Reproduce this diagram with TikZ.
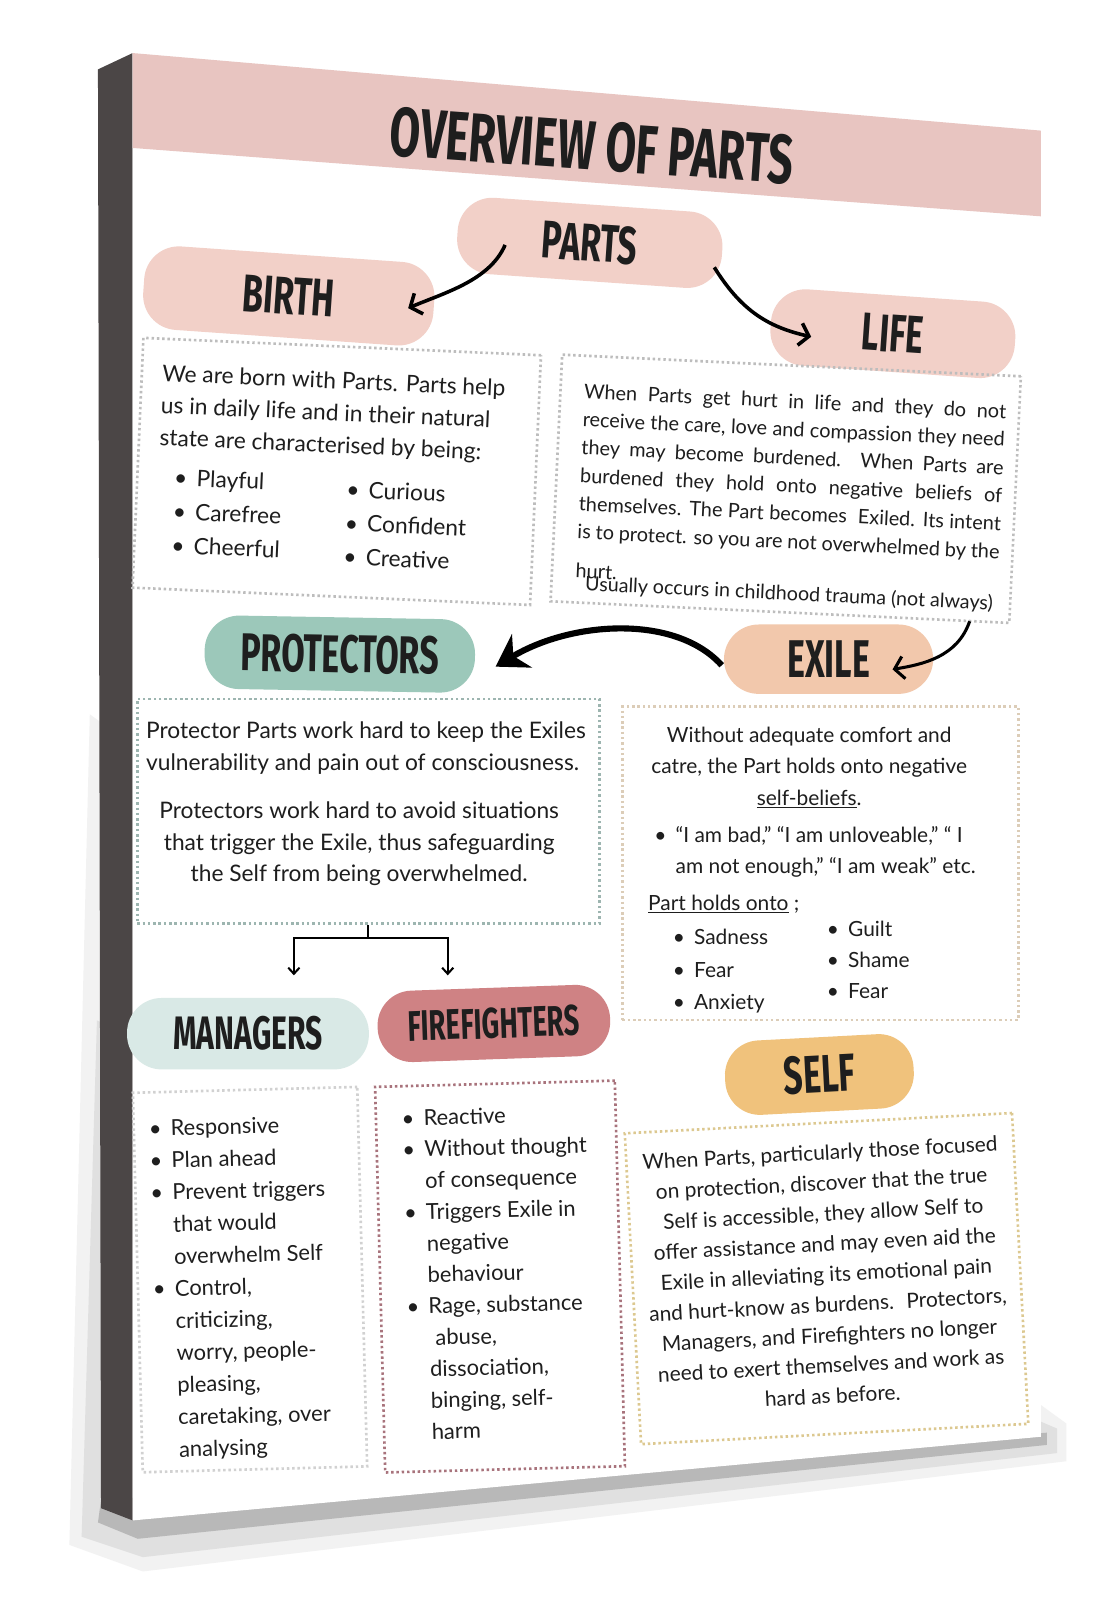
\documentclass[tikz,border=0pt]{standalone}
\usepackage{fontspec}
\setmainfont{Lato}
\newfontfamily\headfont{Fira Sans}[FakeStretch=0.64]
\usetikzlibrary{arrows.meta, positioning, calc}

\definecolor{bandpink}{HTML}{E8C5C1}
\definecolor{pillpink}{HTML}{F2D0C8}
\definecolor{sage}{HTML}{9CC8BA}
\definecolor{peach}{HTML}{F2C8AC}
\definecolor{mist}{HTML}{D9E9E6}
\definecolor{rose}{HTML}{CF8284}
\definecolor{honey}{HTML}{F0C27C}
\definecolor{dotgrey}{HTML}{BDBDBD}
\definecolor{dotteal}{HTML}{9DB5B0}
\definecolor{dotsand}{HTML}{DCCDB8}
\definecolor{dotmauve}{HTML}{A8737C}
\definecolor{dottan}{HTML}{DCC890}
\definecolor{edgedark}{HTML}{4B4646}
\definecolor{ink}{HTML}{1E1E1E}

\tikzset{
  pill/.style={rectangle, rounded corners=34pt, minimum height=72pt, inner sep=0pt,
    text=ink, font=\headfont\bfseries\fontsize{52}{52}\selectfont},
  dotbox/.style={line width=2.6pt, dash pattern=on 2.4pt off 2.8pt, inner sep=0pt},
  textleft/.style={anchor=base west, inner sep=0pt, text=ink},
  textmid/.style={anchor=base, inner sep=0pt, text=ink},
  barb/.style={line width=3.5pt, -{Straight Barb[length=9pt, width=22pt]}},
}
\newcommand{\bul}{\leavevmode\llap{\textbullet\hspace{9pt}}}

\begin{document}
\begin{tikzpicture}[x=1pt, y=-1pt, >=Stealth]
  \fill[white] (0,0) rectangle (1074,1568);
  \useasboundingbox (0,0) rectangle (1074,1568);
  % Canvas: shadow, side and front
  \fill[black!5] (88,700) -- (68,1514) -- (140,1540) -- (1045,1432) -- (1045,1395) -- cycle;
  \fill[black!12] (95,1000) -- (80,1506) -- (140,1526) -- (1036,1424) -- (1036,1400) -- cycle;
  \fill[black!28] (99,1470) -- (96,1492) -- (135,1508) -- (1026,1416) -- (1026,1404) -- cycle;
  \fill[edgedark] (96,68) -- (130,52) -- (130,1490) -- (99,1478) -- cycle;
  \fill[white] (130,52) -- (1020,128) -- (1020,1408) -- (130,1490) -- cycle;
  % Title band
  \fill[bandpink] (130,52) -- (1020,128) -- (1020,212) -- (130,145) -- cycle;
  \node[text=ink, font=\headfont\bfseries\fontsize{68}{68}\selectfont, rotate=-4] (title)
    at (580,143) {OVERVIEW OF PARTS};

  % Top row of pills
  \node[pill, fill=pillpink, minimum width=260pt, minimum height=75pt, rotate=-4] (parts) at (578,238) {PARTS};
  \node[pill, fill=pillpink, minimum width=285pt, minimum height=82pt, rotate=-4] (birth) at (283,290) {BIRTH};
  \node[pill, fill=pillpink, minimum width=240pt, minimum height=75pt, rotate=-4] (life) at (875,327) {LIFE};
  \draw[barb] ($(parts.center)+(-83,2)$) .. controls +(-15,35) and +(35,-15) .. ($(birth.center)+(117,12)$);
  \draw[barb] ($(parts.center)+(122,24)$) .. controls +(25,40) and +(-45,-10) .. ($(life.center)+(-80,3)$);

  % Birth box
  \begin{scope}[rotate around={-2.5:(330,462)}, transform shape]
    \node[dotbox, draw=dotgrey, minimum width=390pt, minimum height=245pt] (birthbox) at (330,462) {};
    \node[textleft, font=\fontsize{22.3}{31.5}\selectfont] (birthtext) at (155,381)
      {\parbox[t]{365pt}{\raggedright We are born with Parts. Parts help\\ us in daily life and in their natural\\ state are characterised by being:}};
    \node[textleft, font=\fontsize{22.3}{33}\selectfont] (birthlistA) at (193,483)
      {\parbox[t]{140pt}{\raggedright\bul Playful\\ \bul Carefree\\ \bul Cheerful}};
    \node[textleft, font=\fontsize{22.3}{33}\selectfont] (birthlistB) at (362,487)
      {\parbox[t]{140pt}{\raggedright\bul Curious\\ \bul Confident\\ \bul Creative}};
  \end{scope}

  % Life box
  \begin{scope}[rotate around={-2.7:(770,479)}, transform shape]
    \node[dotbox, draw=dotgrey, minimum width=450pt, minimum height=242pt] (lifebox) at (770,479) {};
    \node[textleft, font=\fontsize{19.5}{27.5}\selectfont] (lifetext) at (568,400)
      {\parbox[t]{414pt}{\parfillskip=0pt When Parts get hurt in life and they do not\linebreak
        receive the care, love and compassion they need\linebreak
        they may become burdened. When Parts are\linebreak
        burdened they hold onto negative beliefs of\linebreak
        themselves. The Part becomes \ Exiled. Its intent\linebreak
        is to protect. so you are not overwhelmed by the\par}};
    \node[textleft, font=\fontsize{19.5}{27.5}\selectfont] (hurt) at (568,576) {hurt.};
    \node[textleft, font=\fontsize{19.3}{27.5}\selectfont] (usually) at (578,588) {Usually occurs in childhood trauma (not always)};
  \end{scope}

  % Middle row of pills
  \node[pill, fill=sage, minimum width=265pt, rotate=-1] (protectors) at (333,641) {PROTECTORS};
  \node[pill, fill=peach, minimum width=205pt, minimum height=68pt] (exile) at (812,646) {EXILE};
  \draw[line width=6pt, -{Stealth[length=30pt, width=38pt]}] ($(exile.west)+(-2,6)$)
    .. controls +(-45,-50) and +(75,-45) .. ($(protectors.east)+(20,10)$);
  \draw[line width=3pt, -{Straight Barb[length=9pt, width=22pt]}] ($(lifebox.south east)+(-40,-3)$)
    .. controls +(-12,35) and +(30,-5) .. ($(exile.east)+(-40,10)$);

  % Protectors box
  \node[dotbox, draw=dotteal, minimum width=453pt, minimum height=220pt] (protbox) at (361,795) {};
  \node[textleft, font=\fontsize{22.3}{31}\selectfont] (prottextA) at (143,724)
    {\parbox[t]{445pt}{\raggedright Protector Parts work hard to keep the Exiles\\ vulnerability and pain out of consciousness.}};
  \node[textmid, font=\fontsize{22.3}{31}\selectfont] (prottextB) at (352,802)
    {\parbox[t]{445pt}{\centering Protectors work hard to avoid situations\\ that trigger the Exile, thus safeguarding\\ the Self from being overwhelmed.}};

  % Exile box
  \node[dotbox, draw=dotsand, minimum width=388pt, minimum height=307pt] (exilebox) at (804,846) {};
  \node[textmid, font=\fontsize{20.5}{30.5}\selectfont] (exiletext) at (793,728)
    {\parbox[t]{375pt}{\centering Without adequate comfort and\\ catre, the Part holds onto negative\\ \underline{self-beliefs}.}};
  \node[textleft, font=\fontsize{20.5}{30}\selectfont] (beliefs) at (662,826)
    {\parbox[t]{330pt}{\raggedright\bul “I am bad,” “I am unloveable,” “ I\\ am not enough,” “I am weak” etc.}};
  \node[textleft, font=\fontsize{20.5}{30}\selectfont] (holds) at (635,892) {\underline{Part holds onto} ;};
  \node[textleft, font=\fontsize{20.5}{31.5}\selectfont] (holdsA) at (680,926)
    {\parbox[t]{130pt}{\raggedright\bul Sadness\\ \bul Fear\\ \bul Anxiety}};
  \node[textleft, font=\fontsize{20.5}{30.5}\selectfont] (holdsB) at (831,918)
    {\parbox[t]{130pt}{\raggedright\bul Guilt\\ \bul Shame\\ \bul Fear}};

  % Fork to managers and firefighters
  \node[pill, fill=mist, minimum width=237pt, minimum height=70pt, font=\headfont\bfseries\fontsize{46}{46}\selectfont] (managers) at (243,1013) {MANAGERS};
  \node[pill, fill=rose, minimum width=228pt, minimum height=70pt, rotate=2, font=\headfont\bfseries\fontsize{42}{42}\selectfont] (firefighters) at (484,1003) {FIREFIGHTERS};
  \draw[line width=2pt] (protbox.south) -- ++(0,13) coordinate (fork);
  \draw[line width=2pt, -{Straight Barb[length=6pt, width=11pt]}] (fork) -| ($(managers.north)+(45,-22)$);
  \draw[line width=2pt, -{Straight Barb[length=6pt, width=11pt]}] (fork) -| ($(firefighters.north)+(-44,-12)$);

  % Managers box
  \begin{scope}[rotate around={1.5:(245,1254)}, transform shape]
    \node[dotbox, draw=dotgrey!70, minimum width=220pt, minimum height=372pt] (managerbox) at (245,1254) {};
    \node[textleft, font=\fontsize{21.5}{31.5}\selectfont] (managerlist) at (171,1111)
      {\parbox[t]{180pt}{\raggedright\bul Responsive\\ \bul Plan ahead\\ \bul Prevent triggers\\ that would\\ overwhelm Self\\
        \bul Control,\\ criticizing,\\ worry, people-\\ pleasing,\\ caretaking, over\\ analysing}};
  \end{scope}

  % Firefighters box
  \begin{scope}[rotate around={1.5:(490,1251)}, transform shape]
    \node[dotbox, draw=dotmauve, minimum width=235pt, minimum height=378pt] (firebox) at (490,1251) {};
    \node[textleft, font=\fontsize{21.5}{30.8}\selectfont] (firelist) at (419,1101)
      {\parbox[t]{180pt}{\raggedright\bul Reactive\\ \bul Without thought\\ of consequence\\ \bul Triggers Exile in\\ negative\\ behaviour\\
        \bul Rage, substance\\ \hspace*{6pt}abuse,\\ dissociation,\\ binging, self-\\ harm}};
  \end{scope}

  % Self pill and box
  \node[pill, fill=honey, minimum width=185pt, minimum height=73pt, rotate=3] (self) at (803,1053) {SELF};
  \begin{scope}[rotate around={3:(810,1253)}, transform shape]
    \node[dotbox, draw=dottan, minimum width=380pt, minimum height=305pt] (selfbox) at (810,1253) {};
    \node[textmid, font=\fontsize{20.5}{29.8}\selectfont] (selftext) at (810,1137)
      {\parbox[t]{375pt}{\centering When Parts, particularly those focused\\ on protection, discover that the true\\ Self is accessible, they allow Self to\\
        offer assistance and may even aid the\\ Exile in alleviating its emotional pain\\ and hurt-know as burdens. \ Protectors,\\
        Managers, and Firefighters no longer\\ need to exert themselves and work as\\ hard as before.}};
  \end{scope}
\end{tikzpicture}
\end{document}
